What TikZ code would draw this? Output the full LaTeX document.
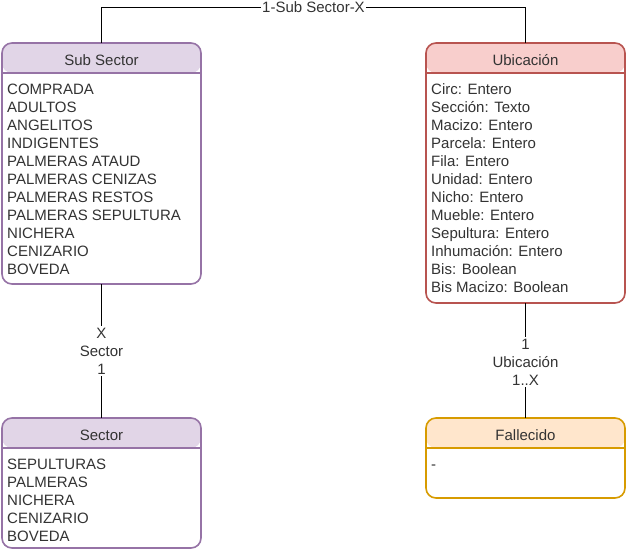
\documentclass[tikz,border=0pt]{standalone}
\usepackage{fontspec}
\setmainfont{Liberation Sans}
\definecolor{txt}{HTML}{333333}
\definecolor{pfill}{HTML}{E1D5E7}
\definecolor{pline}{HTML}{9673A6}
\definecolor{rfill}{HTML}{F8CECC}
\definecolor{rline}{HTML}{B85450}
\definecolor{ofill}{HTML}{FFE6CC}
\definecolor{oline}{HTML}{D79B00}
\tikzset{
  ent/.style n args={2}{draw=#1, line width=1.6pt, rounded corners=10pt, fill=white,
    anchor=north west, minimum width=199pt, inner sep=0pt, outer sep=0pt,
    path picture={\fill[#2] (path picture bounding box.north west) rectangle ([yshift=-30pt]path picture bounding box.north east);
      \draw[#1, line width=1.6pt] ([yshift=-30pt]path picture bounding box.north west) -- ([yshift=-30pt]path picture bounding box.north east);}},
  ttl/.style={anchor=base, text=txt, font=\fontsize{15}{18}\selectfont, inner sep=0pt},
  lst/.style={anchor=north west, text=txt, font=\fontsize{15}{18}\selectfont, inner sep=0pt, align=left},
  conn/.style={draw=black, line width=0.8pt},
  lbl/.style={fill=white, text=txt, font=\fontsize{15}{18}\selectfont, inner sep=1.5pt, align=center},
}
\begin{document}
\begin{tikzpicture}[x=1pt, y=-1pt]
\useasboundingbox (0,0) rectangle (627,549);
% boxes
\node[ent={pline}{pfill}, minimum height=241pt] (subsector) at (2,43) {};
\node[ent={rline}{rfill}, minimum height=260pt] (ubic) at (426,43) {};
\node[ent={pline}{pfill}, minimum height=130pt] (sector) at (2,418) {};
\node[ent={oline}{ofill}, minimum height=80pt] (fall) at (426,418) {};
% titles
\node[ttl] (t1) at (101.5,65) {Sub Sector};
\node[ttl] (t2) at (525.5,65) {Ubicación};
\node[ttl] (t3) at (101.5,440) {Sector};
\node[ttl] (t4) at (525.5,440) {Fallecido};
% lists
\node[lst] (l1) at (7,83.5) {COMPRADA\\ADULTOS\\ANGELITOS\\INDIGENTES\\PALMERAS ATAUD\\PALMERAS CENIZAS\\PALMERAS RESTOS\\PALMERAS SEPULTURA\\NICHERA\\CENIZARIO\\BOVEDA};
\node[lst] (l2) at (431,83.5) {Circ: Entero\\Sección: Texto\\Macizo: Entero\\Parcela: Entero\\Fila: Entero\\Unidad: Entero\\Nicho: Entero\\Mueble: Entero\\Sepultura: Entero\\Inhumación: Entero\\Bis: Boolean\\Bis Macizo: Boolean};
\node[lst] (l3) at (7,458.5) {SEPULTURAS\\PALMERAS\\NICHERA\\CENIZARIO\\BOVEDA};
\node[lst, anchor=base west] (l4) at (431,469) {-};
% connectors
\coordinate (tl) at (101.5,7);
\coordinate (tr) at (525.5,7);
\draw[conn] (subsector.north) -- (tl) -- node[lbl] (c1) {1-Sub Sector-X} (tr) -- (ubic.north);
\draw[conn] (subsector.south) -- node[lbl] (c2) {X\\Sector\\1} (sector.north);
\draw[conn] (ubic.south) -- node[lbl, yshift=-1.5pt] (c3) {1\\Ubicación\\1..X} (fall.north);
\end{tikzpicture}
\end{document}
